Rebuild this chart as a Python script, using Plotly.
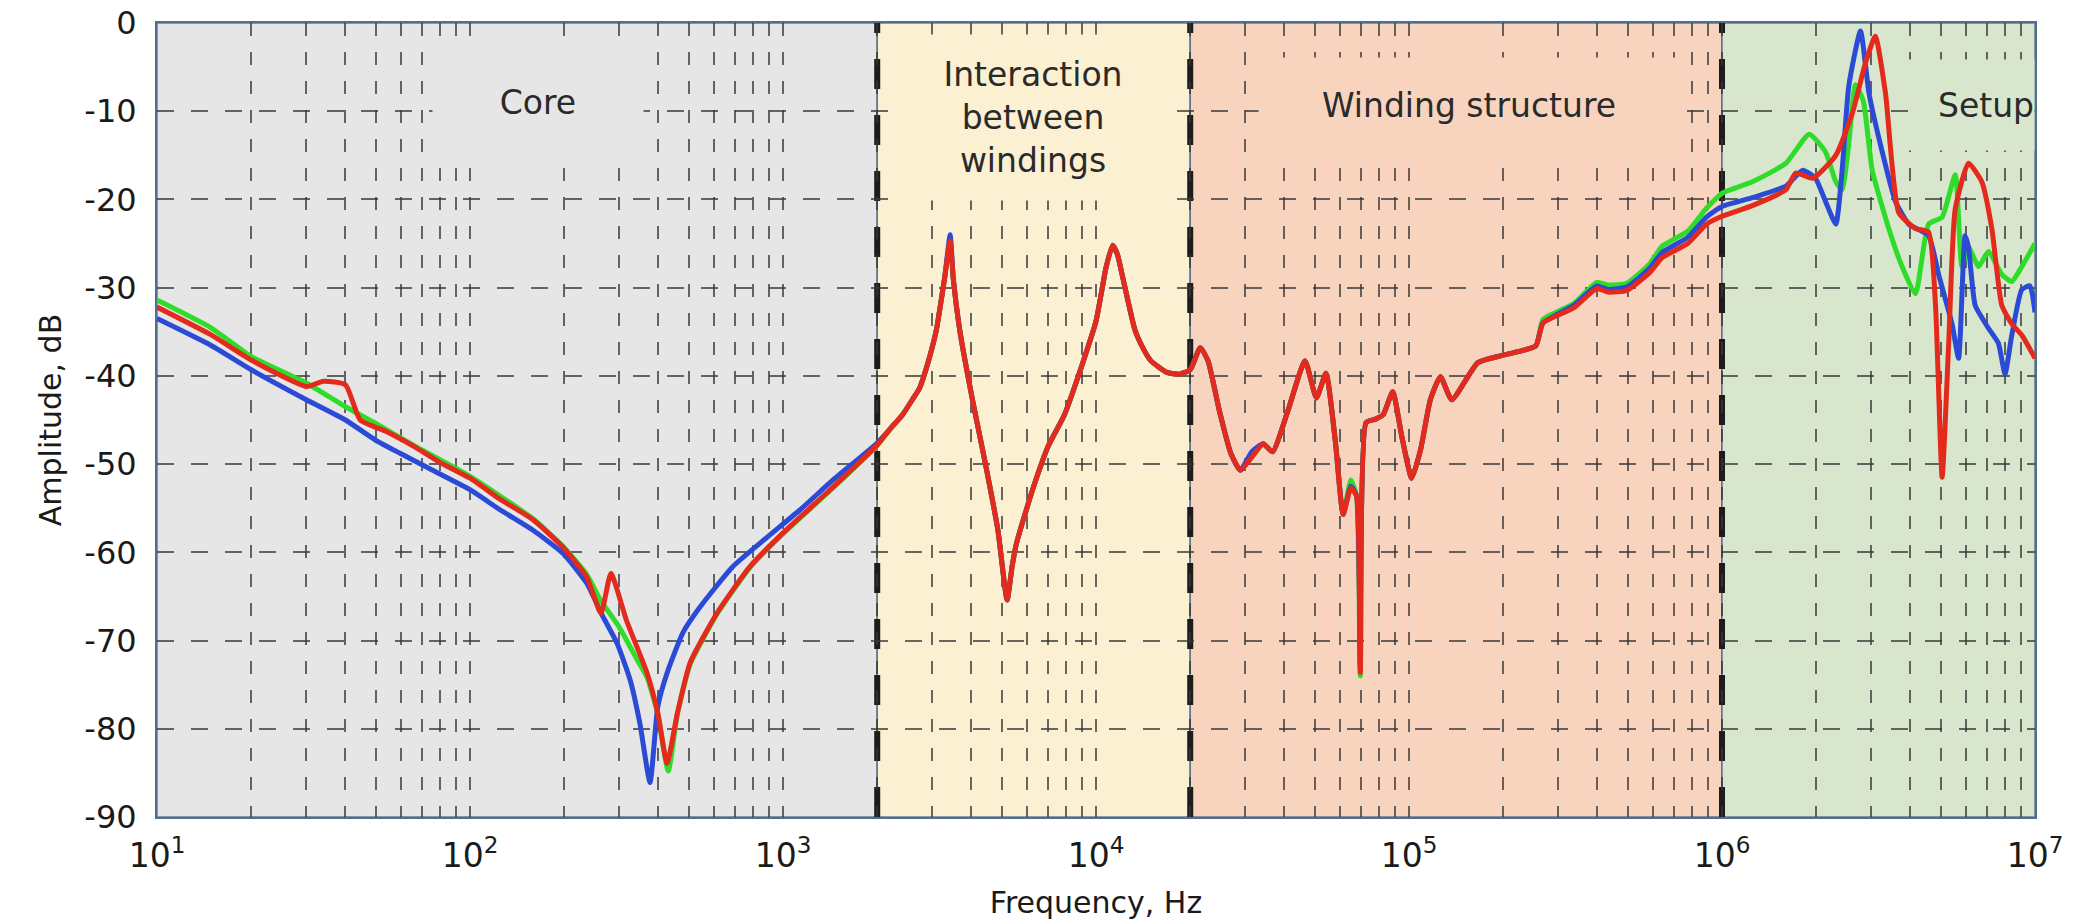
import math
import plotly.graph_objects as go

# ---------------- data ----------------
# Core region (10 Hz .. 2 kHz), one array pair per series
freq_core_red = [10, 14.8, 20, 30, 34, 40, 44.6, 54, 67, 80, 100, 125, 159, 198, 236, 262, 282,
                 316, 368, 398, 426, 460, 505, 615, 785, 1000, 1445, 2000]
amp_core_red = [-32.2, -35.3, -38.2, -41.2, -40.6, -41.0, -45.0, -46.3, -48.1, -49.8, -51.6, -54.0, -56.3,
                -59.4, -62.8, -66.9, -62.4, -67.7, -73.7, -78.2, -83.9, -78.2, -72.5, -66.9, -61.6, -57.8,
                -52.6, -47.8]

freq_core_blue = [10, 14.8, 20, 30, 40, 50, 60, 76, 100, 125, 159, 198, 236, 266, 295, 325, 349, 376,
                  398, 426, 479, 543, 692, 889, 1132, 1445, 2000]
amp_core_blue = [-33.5, -36.5, -39.3, -42.7, -45.0, -47.3, -48.8, -50.7, -52.9, -55.2, -57.5, -60.1, -63.5,
                 -67.3, -70.3, -74.5, -79.4, -86.1, -77.5, -73.7, -69.1, -66.2, -61.6, -58.3, -55.2, -51.8,
                 -47.6]

freq_core_green = [10, 14.8, 20, 30, 40, 50, 67, 100, 159, 198, 236, 262, 300, 340, 368, 398, 430, 460,
                   505, 615, 785, 1000, 1445, 2000]
amp_core_green = [-31.4, -34.5, -37.8, -40.8, -43.5, -45.4, -48.0, -51.4, -56.2, -59.3, -62.5, -65.5, -68.5,
                  -72.0, -74.2, -78.3, -84.8, -78.3, -72.7, -67.0, -61.7, -57.9, -52.7, -47.9]

# Interaction + winding structure regions (2 kHz .. 1 MHz), shared frequencies
freq_mid = [2200, 2410, 2600, 2730, 2900, 3090, 3200, 3290, 3420, 3500, 3670, 4040, 4430, 4860, 5200, 5400,
            5570, 6260, 7050, 7930, 8920, 10000, 10770, 11300, 11700, 12150, 13320, 14200, 14980, 16830,
            18500, 20000,
            21540, 22800, 24800, 26970, 28910, 31470, 34200, 36650, 41000, 46540, 50600, 54300, 58200, 61600,
            65200, 68000, 69900, 72900, 78200, 82700, 88700, 95000, 102000, 109000, 117000, 126000, 137000,
            166000, 203000, 254000, 268000, 336000, 398000, 432000, 497000, 587000, 644000, 777000, 892000,
            1000000]
amp_mid_red = [-46.0, -44.4, -42.6, -41.4, -38.6, -34.8, -31.5, -28.7, -24.7, -29.0, -34.8, -42.9, -49.9, -57.5,
               -65.4, -61.5, -59.0, -53.0, -47.9, -44.4, -39.3, -33.8, -27.7, -25.2, -26.2, -28.7, -34.8, -37.0,
               -38.3, -39.6, -39.8, -39.3,
               -36.8, -38.3, -44.0, -48.8, -50.7, -49.2, -47.7, -48.6, -44.0, -38.3, -42.5, -39.7, -47.5, -55.7,
               -52.7, -53.6, -73.6, -45.3, -44.9, -44.4, -41.8, -47.0, -51.6, -48.3, -42.7, -40.1, -42.7, -38.5,
               -37.6, -36.6, -34.0, -32.3, -30.1, -30.5, -30.3, -28.3, -26.6, -25.0, -22.8, -21.9]
amp_mid_blue = [-46.0, -44.4, -42.6, -41.4, -38.6, -34.8, -31.5, -28.7, -24.0, -29.0, -34.8, -42.9, -49.9, -57.5,
                -65.4, -61.5, -59.0, -53.0, -47.9, -44.4, -39.3, -33.8, -27.7, -25.2, -26.2, -28.7, -34.8, -37.0,
                -38.3, -39.6, -39.8, -39.3,
                -36.8, -38.3, -44.0, -48.8, -50.7, -48.6, -47.7, -48.6, -44.0, -38.3, -42.5, -39.7, -47.5, -55.7,
                -52.5, -53.6, -73.0, -45.3, -44.9, -44.4, -41.8, -47.0, -51.6, -48.3, -42.7, -40.1, -42.7, -38.5,
                -37.6, -36.6, -34.0, -32.0, -29.8, -30.2, -29.9, -27.8, -26.0, -24.3, -22.0, -20.8]
amp_mid_green = [-46.0, -44.4, -42.6, -41.4, -38.6, -34.8, -31.5, -28.7, -24.7, -29.0, -34.8, -42.9, -49.9, -57.5,
                 -65.4, -61.5, -59.0, -53.0, -47.9, -44.4, -39.3, -33.8, -27.7, -25.2, -26.2, -28.7, -34.8, -37.0,
                 -38.3, -39.6, -39.8, -39.3,
                 -36.8, -38.3, -44.0, -48.8, -50.7, -49.2, -47.7, -48.6, -44.0, -38.3, -42.5, -39.7, -47.5, -55.7,
                 -51.8, -53.6, -74.0, -45.3, -44.9, -44.4, -41.8, -47.0, -51.6, -48.3, -42.7, -40.1, -42.7, -38.5,
                 -37.6, -36.6, -33.6, -31.8, -29.4, -29.7, -29.5, -27.3, -25.3, -23.6, -21.0, -19.3]

# Setup region (1 MHz .. 10 MHz)
freq_setup_red = [1.25e6, 1.6e6, 1.72e6, 1.95e6, 2.31e6, 2.61e6, 2.87e6, 3.09e6, 3.33e6, 3.67e6, 4.15e6,
                  4.57e6, 4.81e6, 5.05e6, 5.3e6, 5.56e6, 6.13e6, 6.76e6, 7.28e6, 7.83e6, 8.43e6, 9.08e6, 1e7]
amp_setup_red = [-20.7, -18.9, -17.0, -17.6, -15.0, -10.2, -4.6, -1.5, -8.0, -21.5, -23.3, -23.7, -32.0,
                 -51.5, -36.3, -21.1, -15.9, -18.0, -23.3, -32.0, -34.1, -35.4, -38.0]

freq_setup_blue = [1.25e6, 1.6e6, 1.81e6, 1.99e6, 2.14e6, 2.31e6, 2.42e6, 2.54e6, 2.77e6, 2.95e6, 3.25e6,
                   3.58e6, 3.95e6, 4.57e6, 4.92e6, 5.43e6, 5.7e6, 5.98e6, 6.13e6, 6.44e6, 7.1e6, 7.64e6,
                   8.02e6, 8.43e6, 9.08e6, 9.64e6, 1e7]
amp_setup_blue = [-19.8, -18.5, -16.7, -17.6, -20.2, -22.8, -16.7, -7.2, -0.9, -8.0, -14.6, -20.2, -22.8,
                  -24.1, -28.5, -34.1, -38.0, -24.1, -25.4, -32.0, -34.6, -36.3, -39.8, -35.4, -30.2, -29.8,
                  -32.8]

freq_setup_green = [1.25e6, 1.6e6, 1.9e6, 2.14e6, 2.31e6, 2.42e6, 2.54e6, 2.67e6, 2.83e6, 3.02e6, 3.41e6,
                    3.76e6, 4.15e6, 4.57e6, 5.05e6, 5.56e6, 5.84e6, 6.13e6, 6.6e6, 7.1e6, 7.83e6, 8.43e6,
                    9.08e6, 1e7]
amp_setup_green = [-18.0, -15.9, -12.6, -14.6, -18.0, -18.9, -13.7, -7.0, -8.9, -16.7, -23.3, -27.6, -30.7,
                   -22.8, -22.0, -17.2, -27.6, -25.4, -27.6, -25.9, -28.5, -29.3, -27.6, -25.0]

# Regions
region_edges = [10, 2000, 20000, 1e6, 1e7]
region_names = ["Core", "Interaction<br>between<br>windings", "Winding structure", "Setup"]
region_colors = ["#e6e6e6", "#fcf0d2", "#f8d4be", "#d8e6cd"]
label_freq = [165, 6300, 155000, 1e7]
label_db = [-9.0, -10.7, -9.3, -9.3]

x_tick_vals = [1e1, 1e2, 1e3, 1e4, 1e5, 1e6, 1e7]
x_tick_text = ["10<sup>1</sup>", "10<sup>2</sup>", "10<sup>3</sup>", "10<sup>4</sup>",
               "10<sup>5</sup>", "10<sup>6</sup>", "10<sup>7</sup>"]
y_tick_vals = [0, -10, -20, -30, -40, -50, -60, -70, -80, -90]
y_tick_text = ["0", "-10", "-20", "-30", "-40", "-50", "-60", "-70", "-80", "-90"]

# ---------------- figure ----------------
series = [
    ("green", freq_core_green + freq_mid + freq_setup_green, amp_core_green + amp_mid_green + amp_setup_green, "#2fdc2a"),
    ("blue", freq_core_blue + freq_mid + freq_setup_blue, amp_core_blue + amp_mid_blue + amp_setup_blue, "#2b4ad6"),
    ("red", freq_core_red + freq_mid + freq_setup_red, amp_core_red + amp_mid_red + amp_setup_red, "#e32a1c"),
]

fig = go.Figure()
for name, fx, fy, col in series:
    fig.add_trace(go.Scatter(x=fx, y=fy, mode="lines", name=name,
                             line=dict(color=col, width=5, shape="spline", smoothing=0.5),
                             showlegend=False))

shapes = []
for i in range(4):
    shapes.append(dict(type="rect", xref="x", yref="y", x0=region_edges[i], x1=region_edges[i + 1],
                       y0=-90, y1=0, fillcolor=region_colors[i], layer="below",
                       line=dict(width=1.5, color="rgba(70,95,125,0.8)")))
for e in region_edges[1:4]:
    shapes.append(dict(type="line", xref="x", yref="y", x0=e, x1=e, y0=-90, y1=0, layer="below",
                       line=dict(color="#1c1c1c", width=6, dash="30px,26px")))

annotations = []
box_w = [210, 280, 420, 125]
box_h = [100, 165, 95, 90]
for i in range(4):
    ann = dict(xref="x", yref="y", x=math.log10(label_freq[i]), y=label_db[i], text=region_names[i],
               showarrow=False, font=dict(family="DejaVu Sans", size=33, color="#2a2a2a"),
               bgcolor=region_colors[i], width=box_w[i], height=box_h[i], borderpad=0)
    if i == 3:
        ann.update(xanchor="right", align="right")
    annotations.append(ann)

grid_col = "rgba(55,55,55,0.75)"
minor_vals = [m * 10 ** k for k in range(1, 7) for m in range(2, 10)]

fig.update_layout(
    width=2092, height=920,
    margin=dict(l=157, r=57, t=23, b=103),
    paper_bgcolor="white", plot_bgcolor="white",
    font=dict(family="DejaVu Sans", color="#1a1a1a"),
    shapes=shapes, annotations=annotations,
    xaxis=dict(type="log", range=[1, 7], tickmode="array", tickvals=x_tick_vals, ticktext=x_tick_text,
               tickfont=dict(size=33, color="#1a1a1a"), ticks="", ticklabelstandoff=8,
               showgrid=True, gridcolor=grid_col, gridwidth=1.5, griddash="13px,16px",
               minor=dict(tickmode="array", tickvals=minor_vals, showgrid=True, gridcolor=grid_col,
                          gridwidth=1.5, griddash="13px,16px", ticks=""),
               showline=True, linecolor="#4f6f92", linewidth=2, mirror=True, zeroline=False,
               title=dict(text="Frequency, Hz", font=dict(size=30, color="#1a1a1a"), standoff=26),
               automargin=False),
    yaxis=dict(range=[-90, 0], tickmode="array", tickvals=y_tick_vals, ticktext=y_tick_text,
               tickfont=dict(size=32, color="#1a1a1a"), ticks="", ticklabelstandoff=12,
               showgrid=True, gridcolor=grid_col, gridwidth=1.5, griddash="17px,17px",
               showline=True, linecolor="#4f6f92", linewidth=2, mirror=True, zeroline=False,
               title=dict(text="Amplitude, dB", font=dict(size=30, color="#1a1a1a"), standoff=14),
               automargin=False),
)

fig.write_html("out.html")
